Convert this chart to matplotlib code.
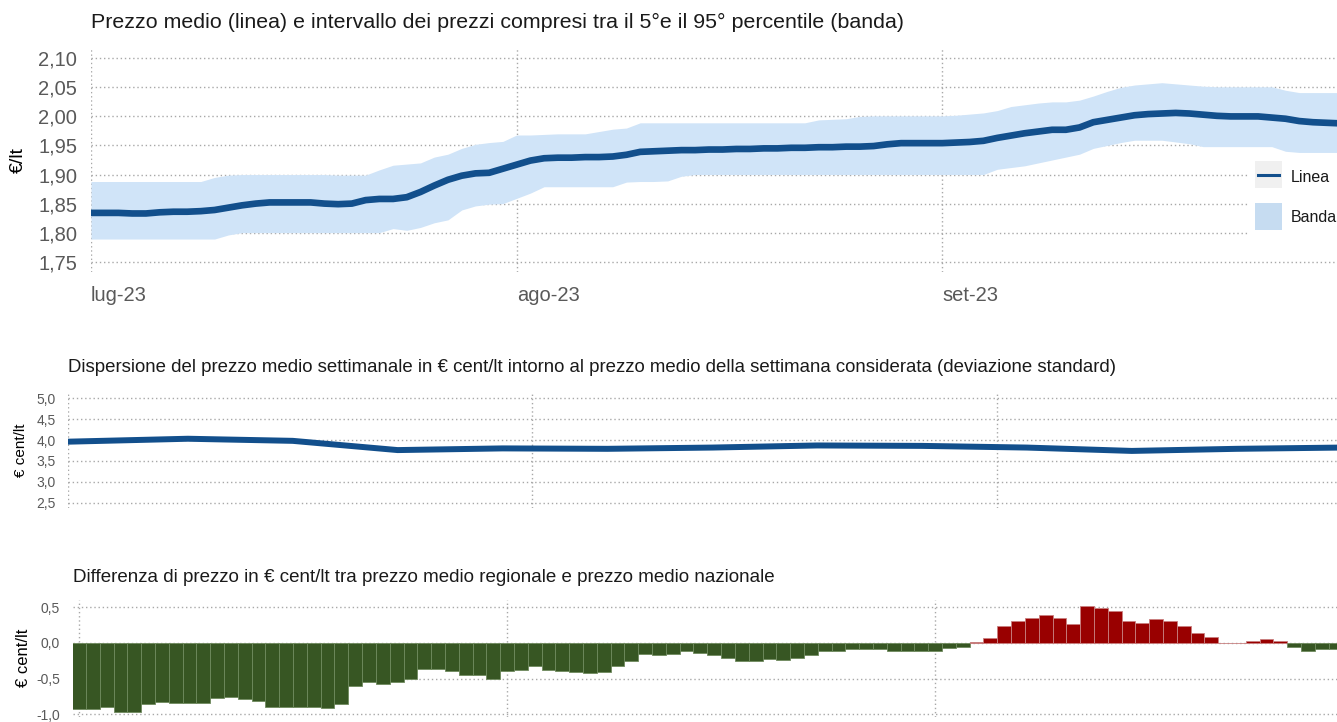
import pandas as pd
import matplotlib
matplotlib.use('Agg')
import matplotlib.pyplot as plt
from matplotlib.patches import Rectangle
from matplotlib.lines import Line2D

plt.rcParams['font.family'] = ['Liberation Sans', 'DejaVu Sans']

# Daily data, 1 Jul - 30 Sep 2023
days = pd.date_range('2023-07-01', '2023-09-30', freq='D')

# Average price (EUR/lt)
price_mean = [
    1.834, 1.834, 1.834, 1.833, 1.833, 1.835, 1.836, 1.836, 1.837, 1.839,
    1.843, 1.847, 1.850, 1.852, 1.852, 1.852, 1.852, 1.850, 1.849, 1.850,
    1.856, 1.858, 1.858, 1.861, 1.870, 1.881, 1.891, 1.898, 1.902, 1.903,
    1.910, 1.917, 1.924, 1.928, 1.929, 1.929, 1.930, 1.930, 1.931, 1.934,
    1.939, 1.940, 1.941, 1.942, 1.942, 1.943, 1.943, 1.944, 1.944, 1.945,
    1.945, 1.946, 1.946, 1.947, 1.947, 1.948, 1.948, 1.949, 1.952, 1.954,
    1.954, 1.954, 1.954, 1.955, 1.956, 1.958, 1.963, 1.967, 1.971, 1.974,
    1.977, 1.977, 1.981, 1.990, 1.994, 1.998, 2.002, 2.004, 2.005, 2.006,
    2.005, 2.003, 2.001, 2.000, 2.000, 2.000, 1.998, 1.996, 1.992, 1.990,
    1.989, 1.988,
]
# 95th percentile
price_p95 = [
    1.888, 1.888, 1.888, 1.888, 1.888, 1.888, 1.888, 1.888, 1.888, 1.895,
    1.899, 1.900, 1.900, 1.900, 1.900, 1.900, 1.900, 1.900, 1.899, 1.899,
    1.899, 1.908, 1.916, 1.918, 1.920, 1.930, 1.935, 1.945, 1.952, 1.955,
    1.957, 1.968, 1.968, 1.969, 1.970, 1.970, 1.970, 1.974, 1.978, 1.980,
    1.989, 1.989, 1.989, 1.989, 1.989, 1.989, 1.989, 1.989, 1.989, 1.989,
    1.989, 1.989, 1.989, 1.994, 1.995, 1.996, 2.000, 2.001, 2.001, 2.001,
    2.001, 2.001, 2.001, 2.002, 2.004, 2.006, 2.010, 2.017, 2.020, 2.023,
    2.025, 2.025, 2.028, 2.035, 2.043, 2.050, 2.054, 2.056, 2.058, 2.056,
    2.054, 2.052, 2.051, 2.051, 2.051, 2.051, 2.051, 2.045, 2.041, 2.041,
    2.041, 2.041,
]
# 5th percentile
price_p5 = [
    1.789, 1.789, 1.789, 1.789, 1.789, 1.789, 1.789, 1.789, 1.789, 1.789,
    1.796, 1.800, 1.800, 1.800, 1.800, 1.800, 1.800, 1.800, 1.800, 1.800,
    1.800, 1.800, 1.807, 1.804, 1.809, 1.817, 1.822, 1.839, 1.846, 1.849,
    1.850, 1.859, 1.868, 1.879, 1.879, 1.879, 1.879, 1.879, 1.879, 1.887,
    1.888, 1.888, 1.889, 1.897, 1.900, 1.900, 1.900, 1.900, 1.900, 1.900,
    1.900, 1.900, 1.900, 1.900, 1.900, 1.900, 1.900, 1.900, 1.900, 1.900,
    1.900, 1.900, 1.900, 1.900, 1.900, 1.900, 1.909, 1.912, 1.915, 1.920,
    1.925, 1.930, 1.935, 1.945, 1.950, 1.955, 1.959, 1.959, 1.959, 1.956,
    1.953, 1.948, 1.948, 1.948, 1.948, 1.948, 1.948, 1.940, 1.938, 1.938,
    1.938, 1.938,
]

# Weekly dispersion (std dev, EUR cent/lt)
week_dates = pd.to_datetime([
    '2023-07-01', '2023-07-09', '2023-07-16', '2023-07-23', '2023-07-30',
    '2023-08-06', '2023-08-13', '2023-08-20', '2023-08-27', '2023-09-03',
    '2023-09-10', '2023-09-17', '2023-09-24',
])
dispersion = [3.96, 4.03, 3.98, 3.76, 3.80, 3.79, 3.82, 3.87, 3.86, 3.82, 3.74, 3.79, 3.82]

# Regional minus national price (EUR cent/lt)
price_diff = [
    -0.93, -0.93, -0.90, -0.96, -0.96, -0.86, -0.82, -0.84, -0.84, -0.84,
    -0.77, -0.76, -0.78, -0.81, -0.89, -0.90, -0.90, -0.90, -0.91, -0.86,
    -0.60, -0.55, -0.58, -0.55, -0.51, -0.36, -0.36, -0.40, -0.45, -0.45,
    -0.50, -0.40, -0.38, -0.33, -0.38, -0.39, -0.41, -0.42, -0.41, -0.32,
    -0.25, -0.15, -0.17, -0.16, -0.11, -0.14, -0.17, -0.21, -0.26, -0.26,
    -0.23, -0.24, -0.21, -0.17, -0.12, -0.12, -0.09, -0.09, -0.09, -0.11,
    -0.11, -0.12, -0.11, -0.07, -0.055, 0.005, 0.07, 0.24, 0.30, 0.34,
    0.39, 0.35, 0.26, 0.51, 0.49, 0.44, 0.30, 0.28, 0.33, 0.31,
    0.23, 0.14, 0.08, 0.002, 0.002, 0.02, 0.05, 0.03, -0.065, -0.115,
    -0.09, -0.09,
]

month_ticks = pd.to_datetime(['2023-07-01', '2023-08-01', '2023-09-01'])
month_labels = ['lug-23', 'ago-23', 'set-23']

LINE_BLUE = '#124f8c'
BAND_BLUE = '#d0e4f8'
GREEN = '#375623'
RED = '#990000'
GRID = '#a8a8a8'
TICK_GREY = '#595959'

W, H = 1337, 722
fig = plt.figure(figsize=(W / 100, H / 100), dpi=100)


def px_axes(x0, y0, x1, y1):
    return fig.add_axes([x0 / W, 1 - y1 / H, (x1 - x0) / W, (y1 - y0) / H])


def style(ax, ysize):
    for s in ax.spines.values():
        s.set_visible(False)
    ax.grid(True, color=GRID, linestyle=(0, (1, 2)), linewidth=1.0)
    ax.set_axisbelow(True)
    ax.tick_params(length=0, labelsize=ysize, labelcolor=TICK_GREY)
    ax.set_xticks(month_ticks)


def comma(fmt):
    return plt.FuncFormatter(lambda v, p: (fmt % v).replace('.', ','))


# --- top: mean price and 5-95 band
ax1 = px_axes(91, 48, W, 272)
style(ax1, 14.5)
ax1.fill_between(days, price_p5, price_p95, color=BAND_BLUE, linewidth=0, zorder=2)
ax1.plot(days, price_mean, color=LINE_BLUE, linewidth=4.8, solid_capstyle='butt', zorder=3)
ax1.set_xlim(days[0], days[0] + pd.Timedelta(days=90.75))
ax1.set_ylim(1.7323, 2.1177)
ax1.set_yticks([1.75, 1.80, 1.85, 1.90, 1.95, 2.00, 2.05, 2.10])
ax1.yaxis.set_major_formatter(comma('%.2f'))
ax1.set_xticklabels(month_labels)
for lab in ax1.get_xticklabels():
    lab.set_horizontalalignment('left')
ax1.tick_params(axis='both', pad=10)
ax1.set_ylabel('€/lt', fontsize=14, color='black', labelpad=8)
fig.text(91 / W, 1 - 22 / H, 'Prezzo medio (linea) e intervallo dei prezzi compresi tra il 5°e il 95° percentile (banda)',
         fontsize=15.4, va='center', ha='left', color='#1a1a1a')

# legend drawn by hand, partly cut by the figure edge
fig.add_artist(Rectangle((1248 / W, 1 - 240 / H), 100 / W, 87 / H, transform=fig.transFigure,
                         facecolor='white', edgecolor='none', zorder=5))
fig.add_artist(Rectangle((1255 / W, 1 - 188 / H), 27 / W, 27 / H, transform=fig.transFigure,
                         facecolor='#f0f0f0', edgecolor='none', zorder=6))
fig.add_artist(Line2D([1258 / W, 1279 / W], [1 - 175 / H, 1 - 175 / H], transform=fig.transFigure,
                      color=LINE_BLUE, linewidth=2.2, zorder=7))
fig.add_artist(Rectangle((1255 / W, 1 - 230 / H), 27 / W, 27 / H, transform=fig.transFigure,
                         facecolor='#c6dcf1', edgecolor='none', zorder=6))
fig.text(1291 / W, 1 - 177 / H, 'Linea', fontsize=11.5, va='center', ha='left', color='#1a1a1a', zorder=7)
fig.text(1291 / W, 1 - 218 / H, 'Banda', fontsize=11.5, va='center', ha='left', color='#1a1a1a', zorder=7)

# --- middle: weekly dispersion
ax2 = px_axes(68, 393, W, 508)
style(ax2, 10)
ax2.plot(week_dates, dispersion, color=LINE_BLUE, linewidth=4.3, zorder=3)
ax2.set_xlim(days[0], days[0] + pd.Timedelta(days=84.7))
ax2.set_ylim(2.38, 5.12)
ax2.set_yticks([2.5, 3.0, 3.5, 4.0, 4.5, 5.0])
ax2.yaxis.set_major_formatter(comma('%.1f'))
ax2.set_xticklabels([])
ax2.tick_params(axis='y', pad=9)
ax2.set_ylabel('€ cent/lt', fontsize=11, color='black', labelpad=6)
fig.text(68 / W, 1 - 368 / H, 'Dispersione del prezzo medio settimanale in € cent/lt intorno al prezzo medio della settimana considerata (deviazione standard)',
         fontsize=13.45, va='center', ha='left', color='#1a1a1a')

# --- bottom: regional vs national difference
ax3 = px_axes(72.5, 600, W, 716.6)
style(ax3, 10)
bar_colors = [RED if v > 0 else GREEN for v in price_diff]
edge_colors = ['#c98080' if v > 0 else '#6f8a5e' for v in price_diff]
ax3.bar(days, price_diff, width=1.0, color=bar_colors, edgecolor=edge_colors, linewidth=0.6, zorder=3)
ax3.set_xlim(days[0] - pd.Timedelta(days=0.47), days[0] + pd.Timedelta(days=91.1))
ax3.set_ylim(-1.03, 0.598)
ax3.set_yticks([-1.0, -0.5, 0.0, 0.5])
ax3.yaxis.set_major_formatter(comma('%.1f'))
ax3.set_xticklabels([])
ax3.tick_params(axis='y', pad=9)
ax3.set_ylabel('€ cent/lt', fontsize=12, color='black', labelpad=4)
fig.text(73 / W, 1 - 577 / H, 'Differenza di prezzo in € cent/lt tra prezzo medio regionale e prezzo medio nazionale',
         fontsize=13.5, va='center', ha='left', color='#1a1a1a')

fig.savefig('out.png', dpi=100)
